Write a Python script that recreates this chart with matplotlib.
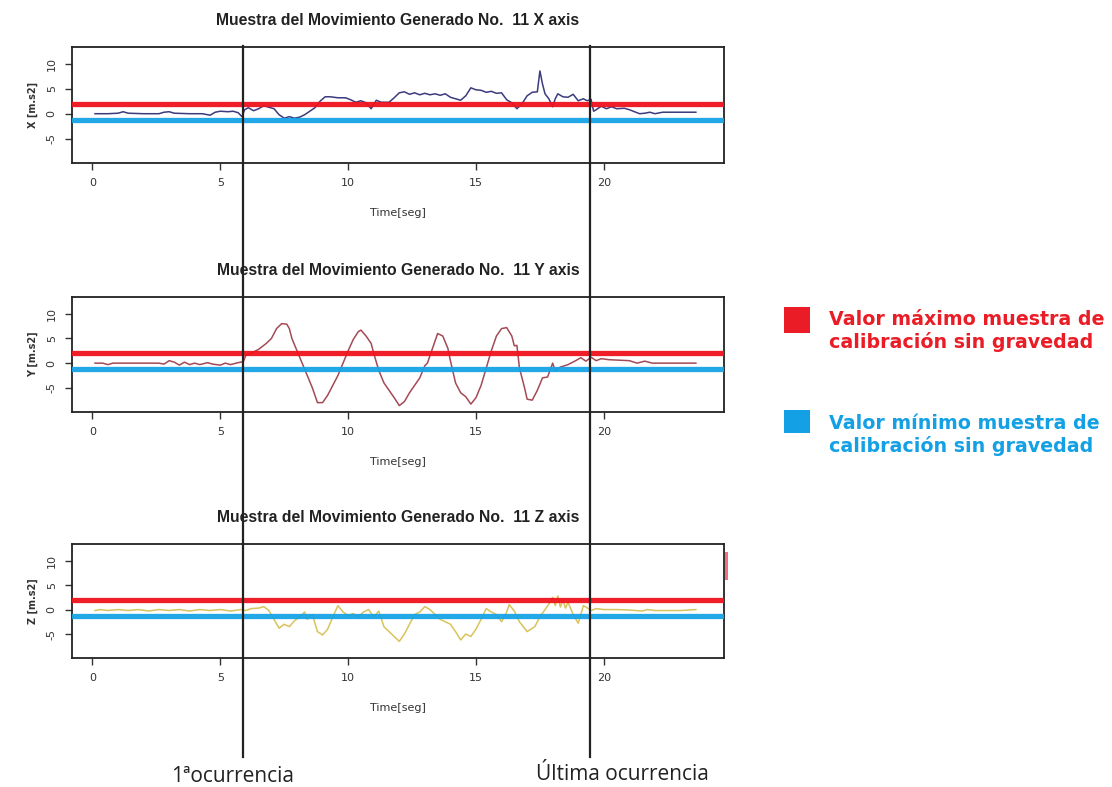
import matplotlib
matplotlib.use("Agg")
import matplotlib.pyplot as plt
from matplotlib.transforms import blended_transform_factory
from matplotlib.lines import Line2D
from matplotlib.patches import Rectangle

plt.rcParams["axes.unicode_minus"] = False

# ---------------- data ----------------
x_axis_samples = [(0.1,0.0),(0.6,0.0),(1.0,0.1),(1.2,0.4),(1.4,0.1),(2.0,0.0),(2.6,0.0),(2.8,0.3),(3.0,0.4),(3.2,0.1),
    (3.8,0.0),(4.3,0.0),(4.6,-0.3),(4.8,0.3),(5.0,0.5),(5.3,0.4),(5.5,0.5),(5.7,0.2),(5.85,-0.6),(5.95,0.8),
    (6.1,1.2),(6.3,0.6),(6.5,1.0),(6.7,1.6),(6.9,1.3),(7.1,1.0),(7.3,-0.2),(7.5,-0.9),(7.7,-0.6),(7.9,-0.9),
    (8.1,-0.7),(8.3,-0.2),(8.5,0.5),(8.7,1.2),(8.9,2.5),(9.1,3.4),(9.3,3.4),(9.6,3.2),(9.9,3.2),(10.1,2.8),
    (10.3,2.3),(10.5,2.6),(10.7,2.2),(10.9,1.0),(11.1,2.7),(11.3,2.3),(11.6,2.3),(11.8,3.2),(12.0,4.2),(12.2,4.4),
    (12.4,3.9),(12.6,4.2),(12.8,3.8),(13.0,4.1),(13.2,3.8),(13.4,4.0),(13.6,3.7),(13.8,4.0),(14.0,3.3),(14.2,3.0),
    (14.4,2.7),(14.6,3.6),(14.8,5.2),(15.0,4.8),(15.2,4.7),(15.4,4.3),(15.6,4.5),(15.8,4.1),(16.0,4.2),(16.2,2.8),
    (16.4,2.2),(16.6,1.0),(16.8,2.0),(17.0,3.6),(17.2,4.3),(17.4,4.4),(17.5,8.6),(17.6,6.0),(17.7,4.0),(17.85,3.0),
    (18.0,1.4),(18.1,3.0),(18.2,4.0),(18.4,3.4),(18.6,3.3),(18.8,3.9),(19.0,2.6),(19.2,3.0),(19.35,2.6),(19.5,2.9),
    (19.6,0.5),(19.7,0.8),(19.9,1.5),(20.1,1.0),(20.3,1.4),(20.5,1.0),(20.8,1.1),(21.0,0.8),(21.2,0.4),(21.4,0.0),
    (21.6,0.1),(21.8,0.3),(22.0,0.0),(22.3,0.3),(22.8,0.3),(23.2,0.3),(23.6,0.3)]

y_axis_samples = [(0.1,0.0),(0.4,0.0),(0.6,-0.3),(0.8,0.0),(1.5,0.0),(2.0,0.0),(2.6,0.0),(2.8,-0.2),(3.0,0.5),(3.2,0.2),
    (3.4,-0.4),(3.6,0.2),(3.8,-0.3),(4.0,0.0),(4.2,-0.3),(4.5,0.1),(4.7,-0.2),(5.0,-0.4),(5.2,0.0),(5.4,-0.3),
    (5.7,0.1),(5.9,0.3),(6.0,1.6),(6.2,2.0),(6.5,2.8),(6.8,4.0),(7.0,5.0),(7.2,7.0),(7.4,8.0),(7.6,7.9),
    (7.7,7.0),(7.8,5.0),(8.0,2.5),(8.2,0.0),(8.4,-2.5),(8.6,-5.0),(8.8,-8.0),(9.0,-8.0),(9.2,-6.5),(9.4,-4.5),
    (9.6,-2.5),(9.8,0.0),(10.0,2.5),(10.2,4.8),(10.4,6.4),(10.5,6.7),(10.7,5.5),(10.9,4.0),(11.0,2.0),(11.2,-1.5),
    (11.4,-4.0),(11.6,-5.5),(11.8,-7.0),(12.0,-8.6),(12.2,-7.8),(12.4,-6.0),(12.6,-4.5),(12.8,-3.0),(13.0,-0.5),(13.1,0.0),
    (13.3,3.0),(13.5,6.0),(13.7,5.5),(13.9,3.0),(14.0,0.5),(14.2,-4.0),(14.4,-6.0),(14.6,-6.8),(14.8,-8.3),(15.0,-7.0),
    (15.2,-4.5),(15.4,-1.0),(15.6,2.5),(15.8,5.5),(16.0,7.0),(16.2,7.2),(16.4,5.5),(16.5,3.5),(16.6,3.6),(16.7,-1.0),
    (16.9,-5.0),(17.0,-7.3),(17.2,-7.5),(17.4,-5.5),(17.6,-3.0),(17.8,-2.8),(18.0,0.0),(18.1,-1.6),(18.3,-0.8),(18.6,-0.3),
    (18.9,0.5),(19.1,1.1),(19.3,0.4),(19.5,1.2),(19.7,0.5),(19.9,0.9),(20.2,0.7),(20.6,0.6),(21.0,0.5),(21.3,0.0),
    (21.6,0.4),(21.9,0.0),(22.3,0.0),(23.0,0.0),(23.6,0.0)]

z_axis_samples = [(0.1,-0.2),(0.3,0.0),(0.6,-0.2),(1.0,0.0),(1.4,-0.2),(1.8,0.0),(2.2,-0.3),(2.6,0.0),(3.0,-0.2),(3.4,0.0),
    (3.8,-0.3),(4.2,0.0),(4.6,-0.2),(5.0,0.0),(5.4,-0.3),(5.8,0.0),(6.0,-0.2),(6.2,0.2),(6.5,0.3),(6.7,0.6),
    (6.9,-0.2),(7.1,-2.0),(7.3,-3.8),(7.5,-3.0),(7.7,-3.5),(7.9,-2.3),(8.1,-1.5),(8.3,-0.5),(8.4,-2.0),(8.6,-1.0),
    (8.8,-4.5),(9.0,-5.2),(9.2,-4.0),(9.4,-1.5),(9.6,0.8),(9.8,-0.5),(10.0,-1.2),(10.2,-0.8),(10.4,-1.5),(10.6,-0.5),
    (10.8,0.0),(11.0,-1.5),(11.2,-0.3),(11.4,-3.5),(11.6,-4.5),(11.8,-5.5),(12.0,-6.5),(12.2,-5.0),(12.4,-3.0),(12.6,-1.0),
    (12.8,-0.5),(13.0,0.6),(13.2,0.0),(13.4,-1.0),(13.6,-2.0),(13.8,-2.5),(14.0,-3.0),(14.2,-4.5),(14.4,-6.2),(14.6,-5.0),
    (14.8,-5.5),(15.0,-4.0),(15.2,-2.0),(15.4,0.2),(15.6,-0.5),(15.8,-1.0),(16.0,-2.5),(16.2,-0.5),(16.3,1.0),(16.5,-0.3),
    (16.7,-2.5),(17.0,-4.5),(17.3,-3.5),(17.5,-1.5),(17.7,0.0),(17.9,1.5),(18.0,2.5),(18.1,0.8),(18.2,2.8),(18.3,0.5),
    (18.4,2.0),(18.5,0.3),(18.6,1.5),(18.8,-1.0),(19.0,-2.8),(19.2,0.8),(19.4,0.2),(19.5,-0.2),(19.7,0.2),(20.0,0.0),
    (20.5,0.0),(21.0,-0.1),(21.5,-0.3),(21.7,0.0),(22.0,-0.2),(22.5,-0.2),(23.0,-0.2),(23.6,0.0)]

axis_names = ["X", "Y", "Z"]
max_calibration = [1.9, 2.0, 2.0]     # red lines
min_calibration = [-1.2, -1.2, -1.4]  # blue lines
first_occurrence = 5.9
last_occurrence = 19.45
x_ticks = [0, 5, 10, 15, 20]
y_ticks = [-5, 0, 5, 10]
title_text = "Muestra del Movimiento Generado No.  11 {} axis"
legend_texts = ["Valor máximo muestra de\ncalibración sin gravedad",
                "Valor mínimo muestra de\ncalibración sin gravedad"]
bottom_labels = ["1ªocurrencia", "Última ocurrencia"]

# ---------------- styling ----------------
line_colors = ["#3b3b7e", "#a44a55", "#d9c35a"]
RED = "#f0121c"
BLUE = "#16a3e6"
W, H = 1112, 787
fig = plt.figure(figsize=(W / 100, H / 100), dpi=100)

boxes = [(47, 163), (297, 412), (544, 658)]  # pixel top/bottom of each plot box
left_px, right_px = 72, 724

axes = []
samples = [x_axis_samples, y_axis_samples, z_axis_samples]
for i, (top, bot) in enumerate(boxes):
    ax = fig.add_axes([left_px / W, 1 - bot / H, (right_px - left_px) / W, (bot - top) / H])
    t = [p[0] for p in samples[i]]
    v = [p[1] for p in samples[i]]
    ax.plot(t, v, color=line_colors[i], lw=1.1, zorder=3)
    ax.axhline(max_calibration[i], color=RED, lw=3.8, zorder=4, alpha=0.95)
    ax.axhline(min_calibration[i], color=BLUE, lw=3.8, zorder=4, alpha=0.95)
    ax.set_xlim(-0.8, 24.7)
    ax.set_ylim(-9.9, 13.4)
    ax.set_xticks(x_ticks)
    ax.set_yticks(y_ticks)
    ax.tick_params(axis="both", direction="out", length=5, width=1, color="#333333",
                   labelsize=8, labelcolor="#333333", pad=6)
    ax.tick_params(axis="y", labelrotation=90)
    for lab in ax.get_yticklabels():
        lab.set_va("center")
    for s in ax.spines.values():
        s.set_linewidth(1.3)
        s.set_color("#222222")
    ax.set_title(title_text.format(axis_names[i]), fontsize=11.3, fontweight="bold",
                 family="Liberation Sans", color="#222222", pad=16)
    ax.set_xlabel("Time[seg]", fontsize=8, color="#333333", labelpad=14)
    ax.set_ylabel(f"{axis_names[i]} [m.s2]", fontsize=7, fontweight="bold", color="#333333", labelpad=6)
    axes.append(ax)

# vertical occurrence lines spanning all panels
trans = blended_transform_factory(axes[0].transData, fig.transFigure)
for xv in (first_occurrence, last_occurrence):
    fig.add_artist(Line2D([xv, xv], [1 - 46 / H, 1 - 757 / H], transform=trans,
                          color="#222222", lw=1.6, zorder=10))

# small red artifact on right edge of lower panel
fig.add_artist(Rectangle((725 / W, 1 - 580 / H), 3 / W, 28 / H, transform=fig.transFigure,
                         color="#f07080", lw=0))

# legend on the right
for (sq_top, sq_bot, txt_y, color, text) in [(307, 333, 331, "#ea1d27", legend_texts[0]),
                                             (410, 433, 435, "#13a0e4", legend_texts[1])]:
    fig.add_artist(Rectangle((784 / W, 1 - sq_bot / H), 26 / W, (sq_bot - sq_top) / H,
                             transform=fig.transFigure, color=color, lw=0))
    fig.text(829 / W, 1 - txt_y / H, text, color=color, fontsize=13.7, fontweight="bold",
             family="DejaVu Sans", va="center", ha="left", linespacing=1.15)

# bottom labels
fig.text(233 / W, 1 - 776 / H, bottom_labels[0], fontsize=15, family="Open Sans",
         color="#222222", ha="center", va="center")
fig.text(622 / W, 1 - 774 / H, bottom_labels[1], fontsize=15, family="Open Sans",
         color="#222222", ha="center", va="center")

fig.savefig("out.png", dpi=100)
